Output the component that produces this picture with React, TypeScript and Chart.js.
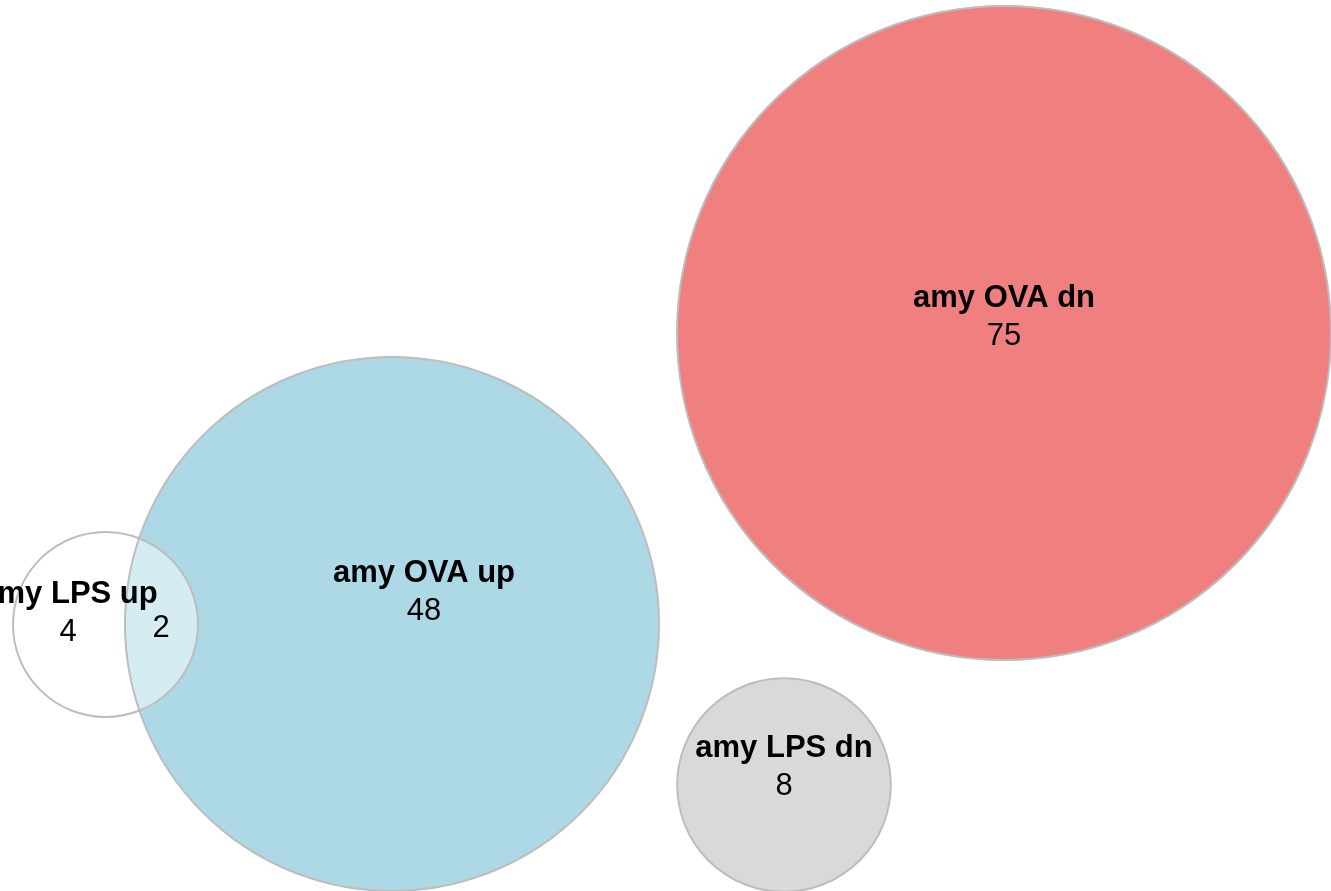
import React, { useEffect, useRef } from "react";
import { Chart, registerables } from "chart.js";

Chart.register(...registerables);

// Sets (drawn in this order)
const setNames = ["amy OVA dn", "amy LPS dn", "amy OVA up", "amy LPS up"];
const setSizes = [75, 8, 50, 6];
// Exclusive region counts shown under each set name
const exclusiveCounts = [75, 8, 48, 4];
// Intersection: amy OVA up ∩ amy LPS up
const intersectionSets = ["amy OVA up", "amy LPS up"];
const intersectionCount = 2;

// Layout of circle centres (in layout units)
const centerX = [1004, 784, 392, 105.5];
const centerY = [333, 785, 624, 624.5];
const radiusPerSqrt = 37.76;

// Label anchors (layout units)
const nameX = [1004, 784, 424, 69];
const nameY = [307, 757, 582, 603];
const countX = [1004, 784, 424, 68];
const countY = [345, 795, 620, 641];
const interX = 161;
const interY = 637;

const fillColors = ["#F08080", "#D9D9D9", "#ADD8E6", "rgba(255,255,255,0.5)"];
const strokeColor = "#BDBDBD";

const W = 1331;
const H = 891;

export default function App() {
  const ref = useRef<HTMLCanvasElement | null>(null);
  useEffect(() => {
    if (!ref.current) return;
    const points = setNames.map((n, i) => ({
      x: centerX[i],
      y: centerY[i],
      rad: radiusPerSqrt * Math.sqrt(setSizes[i]),
      name: n,
    }));
    const radiusFn = (ctx: any) => {
      const s = ctx.chart.scales.x;
      const raw = ctx.raw;
      if (!raw || !s) return 0;
      return s.getPixelForValue(raw.x + raw.rad) - s.getPixelForValue(raw.x);
    };
    const labelPlugin = {
      id: "vennLabels",
      afterDatasetsDraw(chart: any) {
        const c = chart.ctx;
        const sx = chart.scales.x;
        const sy = chart.scales.y;
        c.save();
        c.fillStyle = "#000";
        c.textAlign = "center";
        c.textBaseline = "alphabetic";
        setNames.forEach((n, i) => {
          c.font = "bold 31px 'Liberation Sans', Arial, Helvetica, sans-serif";
          c.fillText(n, sx.getPixelForValue(nameX[i]), sy.getPixelForValue(nameY[i]));
          c.font = "31px 'Liberation Sans', Arial, Helvetica, sans-serif";
          c.fillText(String(exclusiveCounts[i]), sx.getPixelForValue(countX[i]), sy.getPixelForValue(countY[i]));
        });
        c.font = "31px 'Liberation Sans', Arial, Helvetica, sans-serif";
        c.fillText(String(intersectionCount), sx.getPixelForValue(interX), sy.getPixelForValue(interY));
        c.restore();
      },
    };
    const chart = new Chart(ref.current, {
      type: "scatter",
      data: {
        datasets: [
          {
            label: "outlines",
            data: points,
            order: 1,
            showLine: false,
            pointBackgroundColor: "rgba(0,0,0,0)",
            pointBorderColor: strokeColor,
            pointBorderWidth: 2,
            pointRadius: radiusFn,
            pointHoverRadius: radiusFn,
            clip: false,
          } as any,
          {
            label: "sets",
            data: points,
            order: 2,
            showLine: false,
            pointBackgroundColor: fillColors,
            pointBorderWidth: 0,
            pointBorderColor: "rgba(0,0,0,0)",
            pointRadius: radiusFn,
            pointHoverRadius: radiusFn,
            clip: false,
          } as any,
        ],
      },
      options: {
        responsive: false,
        animation: false,
        events: [],
        devicePixelRatio: 1,
        layout: { padding: 0 },
        plugins: {
          legend: { display: false },
          tooltip: { enabled: false },
          title: { display: false },
        },
        scales: {
          x: { type: "linear", min: 0, max: W, display: false },
          y: { type: "linear", min: 0, max: H, reverse: true, display: false },
        },
      },
      plugins: [labelPlugin],
    });
    return () => chart.destroy();
  }, []);
  return (
    <div style={{ position: "fixed", left: 0, top: 0, width: W, height: H, background: "#fff" }}>
      <canvas ref={ref} width={W} height={H} style={{ display: "block", width: W, height: H }} />
    </div>
  );
}
